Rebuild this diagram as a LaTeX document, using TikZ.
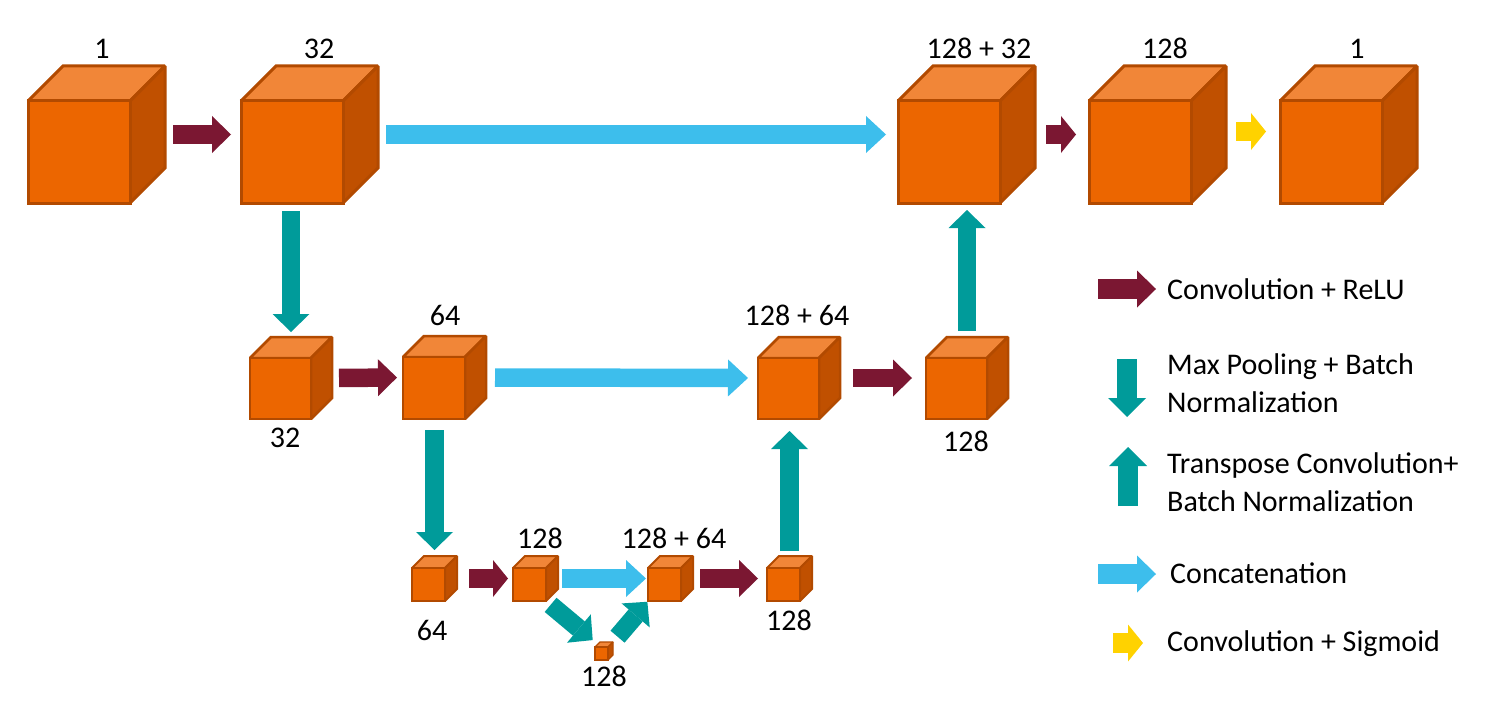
\documentclass[tikz,border=0pt]{standalone}
\usepackage{fontspec}
\setmainfont{Carlito}
\usetikzlibrary{arrows.meta,calc}

\definecolor{cfront}{RGB}{236,102,0}
\definecolor{ctop}{RGB}{241,134,56}
\definecolor{cside}{RGB}{192,80,0}
\definecolor{cedge}{RGB}{178,74,0}
\definecolor{crelu}{RGB}{123,23,50}
\definecolor{cpool}{RGB}{0,155,154}
\definecolor{ccat}{RGB}{61,190,236}
\definecolor{csig}{RGB}{255,210,0}

\tikzset{
  cubebox/.style={inner sep=0pt, outer sep=0pt, draw=none},
  cubeedge/.style={draw=cedge, line join=miter, miter limit=1.6},
  arr/.style={line width=18.5pt},
  relu/.style={arr, draw=crelu, -{Triangle[length=19pt,width=37pt,line width=0pt]}},
  reluS/.style={arr, draw=crelu, -{Triangle[length=15pt,width=37pt,line width=0pt]}},
  pool/.style={arr, draw=cpool, -{Triangle[length=18pt,width=37pt,line width=0pt]}},
  cat/.style={arr, draw=ccat, -{Triangle[length=20pt,width=37pt,line width=0pt]}},
  sigS/.style={arr, draw=csig, -{Triangle[length=15pt,width=37pt,line width=0pt]}},
  lbl/.style={font=\fontsize{30}{35}\selectfont, inner sep=0pt, anchor=base},
  leg/.style={font=\fontsize{30}{35}\selectfont, inner sep=0pt, anchor=base west},
}

% name, x0, y0 (front face top-left, image coords), front size, depth, edge width
\newcommand{\ucube}[6]{%
  \node[cubebox, minimum width={#4pt+#5pt}, minimum height={#4pt+#5pt}, anchor=north west] (#1) at (#2,{#3-#5}) {};
  \node[cubebox, minimum width=#4pt, minimum height=#4pt, anchor=north west] (#1-f) at (#2,#3) {};
  \filldraw[cubeedge, line width=#6pt, fill=ctop] (#1-f.north west) -- ++(#5,-#5) -- ++(#4,0) -- (#1-f.north east) -- cycle;
  \filldraw[cubeedge, line width=#6pt, fill=cside] (#1-f.north east) -- ++(#5,-#5) -- ++(0,#4) -- (#1-f.south east) -- cycle;
  \filldraw[cubeedge, line width=#6pt, fill=cfront] (#1-f.north west) rectangle (#1-f.south east);
}

\begin{document}
\begin{tikzpicture}[x=1pt, y=-1pt]
\useasboundingbox (0,0) rectangle (1488,706);

% ---- cubes ----
\ucube{A}{28}{101}{102}{35}{3}
\ucube{B}{241}{101}{102}{35}{3}
\ucube{C}{898}{101}{102}{35}{3}
\ucube{D}{1089}{101}{102}{35}{3}
\ucube{E}{1280}{101}{102}{35}{3}

\ucube{F}{250}{358}{61}{21}{2.5}
\ucube{G}{403}{357}{62}{21}{2.5}
\ucube{H}{758}{358}{61}{21}{2.5}
\ucube{I}{926}{358}{61}{21}{2.5}

\ucube{J}{412}{568}{33}{12}{2}
\ucube{K}{513}{568}{33}{12}{2}
\ucube{L}{648}{568}{33}{12}{2}
\ucube{M}{767}{568}{33}{12}{2}

\ucube{N}{595}{647}{13}{5}{1.3}

% ---- labels ----
\node[lbl] (tA) at (102,59) {1};
\node[lbl] (tB) at (319,59) {32};
\node[lbl] (tC) at (979,59) {128 + 32};
\node[lbl] (tD) at (1165,59) {128};
\node[lbl] (tE) at (1357,59) {1};

\node[lbl] (tF) at (285,447) {32};
\node[lbl] (tG) at (445,325) {64};
\node[lbl] (tH) at (797,325) {128 + 64};
\node[lbl] (tI) at (966,451) {128};

\node[lbl] (tJ) at (432,640) {64};
\node[lbl] (tK) at (540,548) {128};
\node[lbl] (tL) at (674,548) {128 + 64};
\node[lbl] (tM) at (789,630) {128};
\node[lbl] (tN) at (604,686) {128};

% ---- connectors ----
\draw[relu, shorten <=8pt, shorten >=10pt] (A.east) -- (B.west);
\draw[cat, shorten <=8pt, shorten >=12pt] (B.east) -- (C.west);
\draw[reluS, shorten <=11pt, shorten >=13pt] (C.east) -- (D.west);
\draw[sigS, shorten <=10pt, shorten >=14pt] ([yshift=3pt]D.east) -- ([yshift=3pt]E.west);

\draw[relu, shorten <=7pt, shorten >=6pt] (F.east) -- (G.west);
\draw[cat, shorten <=9pt, shorten >=10pt] (G.east) -- (H.west);
\draw[relu, shorten <=13pt, shorten >=14pt] (H.east) -- (I.west);

\draw[reluS, shorten <=12pt, shorten >=5pt] (J.east) -- (K.west);
\draw[cat, shorten <=4pt, shorten >=2pt] (K.east) -- (L.west);
\draw[relu, shorten <=7pt, shorten >=9pt] (L.east) -- (M.west);

\draw[pool, shorten <=8pt, shorten >=5pt] (F.north |- B.south) -- (F.north);
\draw[pool, shorten <=11pt, shorten >=6pt] (J.north |- G.south) -- (J.north);
\draw[pool, shorten <=5pt, shorten >=12pt] (M.north) -- (M.north |- H.south);
\draw[pool, shorten <=6pt, shorten >=7pt] (I.north) -- (I.north |- C.south);

\draw[pool, shorten <=6pt, shorten >=3pt] (K-f.south east) -- (N.north west);
\draw[pool, shorten <=7pt, shorten >=1pt] (N.north east) -- (L.south west);

% ---- legend ----
\coordinate (l1a) at (1098,289); \coordinate (l1b) at (1156,289);
\coordinate (l2a) at (1127,359); \coordinate (l2b) at (1127,417);
\coordinate (l3a) at (1128,506); \coordinate (l3b) at (1128,447);
\coordinate (l4a) at (1098,574); \coordinate (l4b) at (1156,574);
\coordinate (l5a) at (1113,643); \coordinate (l5b) at (1143,643);
\draw[relu, line width=19.5pt] (l1a) -- (l1b);
\draw[pool, line width=19.5pt, -{Triangle[length=19pt,width=38pt,line width=0pt]}] (l2a) -- (l2b);
\draw[pool, line width=19.5pt, -{Triangle[length=19pt,width=38pt,line width=0pt]}] (l3a) -- (l3b);
\draw[cat, line width=19.5pt, -{Triangle[length=19pt,width=37pt,line width=0pt]}] (l4a) -- (l4b);
\draw[sigS, line width=19.5pt] (l5a) -- (l5b);

\node[leg] (g1) at (1167,299) {Convolution + ReLU};
\node[leg] (g2) at (1167,374) {Max Pooling + Batch};
\node[leg] (g2b) at (1167,412) {Normalization};
\node[leg] (g3) at (1167,473) {Transpose Convolution+};
\node[leg] (g3b) at (1167,511) {Batch Normalization};
\node[leg] (g4) at (1170,583) {Concatenation};
\node[leg] (g5) at (1167,651) {Convolution + Sigmoid};
\end{tikzpicture}
\end{document}
